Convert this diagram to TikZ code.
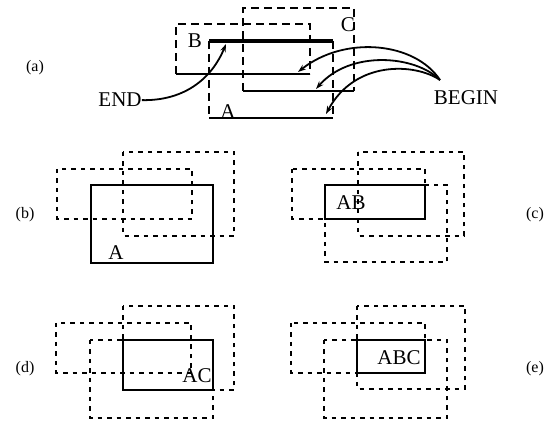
\documentclass[tikz,border=0pt]{standalone}
\usepackage{fontspec}
\setmainfont{Liberation Serif}
\usetikzlibrary{arrows.meta}
\begin{document}
\begin{tikzpicture}[x=1pt,y=-1pt,
  dsh/.style={line width=2pt, dash pattern=on 4.5pt off 5pt},
  dsha/.style={line width=1.8pt, dash pattern=on 8pt off 5pt},
  sol/.style={line width=2pt},
  thk/.style={line width=2.8pt},
  lbl/.style={font=\fontsize{21}{21}\selectfont, inner sep=0pt, anchor=base},
  plbl/.style={font=\fontsize{16}{16}\selectfont, inner sep=0pt},
  arr/.style={line width=1.8pt, -{Stealth[length=8pt,width=5.5pt]}}]
\useasboundingbox (0,0) rectangle (547,422);
% ---------- panel (a)
\node[plbl] (pa) at (35,68) {(a)};
\draw[dsha] (176,74) -- (176,24) -- (310,24) -- (310,74);
\draw[sol] (176,74) -- (310,74);
\draw[dsha] (243,91) -- (243,8) -- (354,8) -- (354,91);
\draw[sol] (243,91) -- (354,91);
\draw[dsha] (209,41) -- (209,118);
\draw[dsha] (333,41) -- (333,118);
\draw[line width=3.2pt] (209,41) -- (333,41);
\draw[sol] (209,118) -- (333,118);
\node[lbl] (aB) at (195,48) {B};
\node[lbl] (aC) at (348,32) {C};
\node[lbl] (aA) at (228,119) {A};
\node[lbl] (endn) at (120,107) {END};
\node[lbl] (beginn) at (466,105) {BEGIN};
\coordinate (tip) at (440,80);
\coordinate (e1) at (298,72);
\coordinate (e2) at (316,89);
\coordinate (e3) at (326,114);
\coordinate (e4) at (226,44);
\draw[arr] (tip) .. controls (415,42) and (345,35) .. (e1);
\draw[arr] (tip) .. controls (415,55) and (350,50) .. (e2);
\draw[arr] (tip) .. controls (415,63) and (355,60) .. (e3);
\draw[arr] (endn.east) .. controls (185,101) and (212,78) .. (e4);
% ---------- panel (b)
\node[plbl] (pb) at (25,215) {(b)};
\draw[dsh] (57,169) rectangle (192,219);
\draw[dsh] (123,152) rectangle (234,236);
\draw[sol] (91,185) rectangle (213,263);
\node[lbl] (bA) at (116,260) {A};
% ---------- panel (c)
\node[plbl] (pc) at (535,215) {(c)};
\draw[dsh] (292,169) rectangle (425,219);
\draw[dsh] (358,152) rectangle (464,236);
\draw[dsh] (325,185) rectangle (447,262);
\draw[thk] (325,185) rectangle (425,219);
\node[lbl] (cAB) at (351,210) {AB};
% ---------- panel (d)
\node[plbl] (pd) at (25,369) {(d)};
\draw[dsh] (56,323) rectangle (191,373);
\draw[dsh] (123,306) rectangle (234,390);
\draw[dsh] (90,340) rectangle (213,418);
\draw[sol] (123,340) rectangle (213,390);
\node[lbl] (dAC) at (197,383) {AC};
% ---------- panel (e)
\node[plbl] (pe) at (535,369) {(e)};
\draw[dsh] (291,323) rectangle (425,373);
\draw[dsh] (357,306) rectangle (465,389);
\draw[dsh] (324,340) rectangle (447,418);
\draw[thk] (357,340) rectangle (425,373);
\node[lbl] (eABC) at (399,365) {ABC};
\end{tikzpicture}
\end{document}
